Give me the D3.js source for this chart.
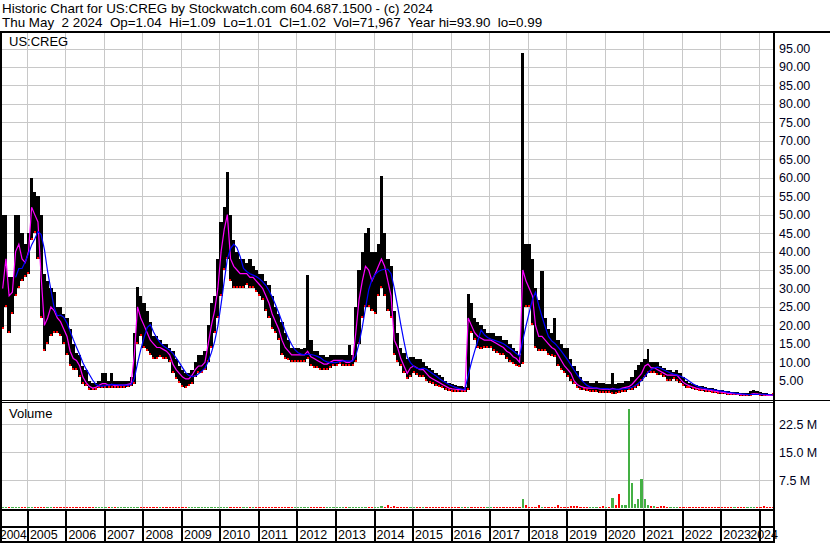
<!DOCTYPE html>
<html lang="en">
<head>
<meta charset="UTF-8">
<title>Historic Chart for US:CREG</title>
<script src="https://cdn.jsdelivr.net/npm/d3@7/dist/d3.min.js"></script>
<style>
    body { margin: 0; background: #fff; }
    svg { display: block; font-family: Arial, "Liberation Sans", sans-serif; }
    text { white-space: pre; }
</style>
</head>
<body>
<div id="chart"></div>
<script>
// one bar per month, May 2004 .. May 2024
const firstMonth = new Date(2004, 4, 1);

const priceHigh = [
    50, 50, 33, 33, 50, 50, 45, 42,                        // 2004 (May-Dec)
    45, 60, 56, 55, 50, 34, 32, 30, 29, 25, 25, 23,        // 2005
    22, 19, 15, 12.5, 12, 9, 8, 5, 4.5, 4.5, 5, 7,         // 2006
    7, 5, 7, 5, 5, 5, 5, 5, 6, 18, 30.5, 28,               // 2007
    26, 24, 21, 17, 17, 16, 15, 15, 14, 13, 11, 9,         // 2008
    8, 7, 7, 8, 10, 12, 12, 13, 20, 26, 28, 38,            // 2009
    48, 52, 61.5, 50, 43, 40, 38, 38, 37, 38, 36, 35,      // 2010
    34, 34, 32, 31, 28, 25, 23, 21, 18, 16, 14, 14,        // 2011
    14, 13.5, 14, 33.6, 16, 13, 13, 12, 12, 11.5, 12, 12,  // 2012
    12, 12, 12, 12, 14.7, 12, 25, 35, 40, 45, 46.3, 40,    // 2013
    40, 42, 60.4, 45, 38, 36, 24, 18, 14, 12.5, 11, 11.4,  // 2014
    11.4, 11, 11, 10, 9, 8.5, 8, 7, 6.5, 6, 5, 4.5,        // 2015
    4, 3.8, 3.5, 3.5, 3.3, 28.6, 26, 22, 21, 20, 19, 18,   // 2016
    18, 18, 17, 17, 16, 16, 15, 14, 13, 12, 93.9, 42,      // 2017
    42, 38, 30, 27, 34.6, 22, 19, 18, 22, 16, 15, 14,      // 2018
    13.9, 11, 9, 7.6, 6, 5, 5, 4.5, 4.5, 4.9, 4.5, 4.5,    // 2019
    4, 4, 7.2, 4, 4.5, 4.5, 5, 5, 6, 8, 9.3, 10,           // 2020
    11, 13.6, 10, 10, 10, 9, 8.5, 8, 7.8, 7.5, 7.8, 7,     // 2021
    6, 5, 4.5, 4, 3.8, 3.5, 3.5, 3.3, 3, 3, 2.8, 2.6,      // 2022
    2.4, 2.3, 2.2, 2, 2, 1.9, 1.8, 1.8, 1.7, 2.2, 2.5, 2.2, // 2023
    2, 1.8, 1.6, 1.5, 1.09                                 // 2024
];

const priceLow = [
    19, 25, 18, 23, 28, 30, 32, 33,
    34, 43, 45, 38, 22, 13, 15, 17, 18, 18, 17, 15,
    12, 9, 8, 8, 6, 4, 3.5, 2.5, 2.5, 2.5, 3, 3,
    3, 3, 3, 3, 3, 3, 3, 3.4, 3.5, 4, 15, 17,
    14, 13, 12, 11, 11, 11.5, 11, 11, 10, 7, 5.5, 4.5,
    3.4, 3, 3.5, 4, 6, 7, 7, 8, 10, 14, 18, 22,
    28, 35, 38, 32, 30, 30, 30, 30, 31, 30, 30, 29,
    28, 27, 24, 22, 19, 18, 16, 12, 11, 10.6, 10, 10,
    10, 10, 10, 11, 9, 8.5, 8.5, 8, 7.8, 8, 8.5, 9,
    9, 9.5, 9, 9, 9, 9, 10, 15, 22, 25, 25, 24,
    23, 28, 30, 28, 24, 22, 12, 10, 9, 7, 5.5, 6,
    7, 6.5, 6, 6, 5, 4.5, 4, 3.5, 3.2, 3, 2.5, 2.3,
    2, 2, 2, 2, 2, 2.5, 18, 16, 14, 13.5, 14, 14,
    14, 13, 12.5, 12, 12, 11, 10, 9.5, 9, 8.8, 9.5, 25,
    25, 20, 14, 13, 13, 13, 12, 11.8, 11.5, 9, 8, 7,
    6, 5, 4, 3, 2.5, 2.5, 2.3, 2, 2, 2, 1.8, 1.7,
    1.8, 1.6, 1.3, 1.5, 1.8, 2, 2, 2.5, 2.5, 3, 3.5, 5,
    6, 7, 7, 7, 6.6, 6.6, 6, 5, 5, 5.5, 5, 4.5,
    3.5, 3, 3, 2.8, 2.5, 2.3, 2.2, 2, 2, 1.8, 1.6, 1.5,
    1.4, 1.3, 1.2, 1.1, 1.05, 1.05, 1, 1, 1, 1, 1.1, 1.1,
    1, 0.99, 1, 1, 1.01
];

const priceClose = [
    30, 38, 28, 29, 40, 42, 38, 37,
    40, 52, 50, 48, 33, 20, 22, 25, 24, 22, 21, 19,
    17, 13, 11, 10.5, 9, 6, 4.5, 3.5, 3, 3.2, 3.8, 4.2,
    4.2, 3.8, 4, 3.6, 3.8, 3.8, 3.8, 4, 4.2, 12, 25, 22,
    20, 18, 16, 15, 14, 14, 13.5, 13, 12, 9.5, 8, 7,
    6, 5.5, 5.5, 6.5, 8, 9, 9, 10, 15, 20, 24, 30,
    40, 46, 50, 38, 36, 35, 34, 34, 34, 33, 33, 32,
    31, 30, 28, 26, 23, 21, 19, 16, 14, 13, 12, 12,
    12, 12, 12, 13, 11.5, 11, 10.5, 10, 9.5, 9.5, 10, 10.5,
    10.5, 10.5, 10.5, 10, 10, 10.5, 18, 27, 32, 36, 35, 32,
    34, 36, 38, 36, 32, 28, 16, 14, 11, 9, 7, 8.5,
    9, 8.5, 8, 8, 7, 6, 5.5, 5, 4.5, 4, 3.5, 3,
    2.8, 2.7, 2.6, 2.6, 2.5, 22, 20, 18, 17, 16.5, 16, 16,
    16, 15.5, 15, 14.5, 14, 13, 12.5, 11.5, 11, 10, 35, 32,
    30, 28, 20, 17, 17, 16, 15, 14, 13.5, 12, 10.5, 9,
    8, 7, 5, 4, 3.5, 3.2, 3, 3, 3, 3, 2.8, 2.7,
    2.8, 2.6, 2.9, 2.7, 2.6, 3, 3.2, 3.4, 4, 5, 6, 7,
    9, 9.5, 8.5, 8.5, 8, 7.5, 7, 6.5, 6.5, 6.5, 6.5, 5.5,
    4.5, 4, 3.6, 3.3, 3, 2.8, 2.7, 2.6, 2.5, 2.3, 2.2, 2,
    1.9, 1.8, 1.6, 1.5, 1.5, 1.4, 1.3, 1.2, 1.2, 1.3, 1.5, 1.4,
    1.3, 1.2, 1.1, 1.05, 1.02
];

// monthly volume, millions of shares
const volume = [
    0.3, 0.3, 0.3, 0.3, 0.3, 0.3, 0.3, 0.3,
    0.3, 0.3, 0.3, 0.3, 0.3, 0.3, 0.3, 0.3, 0.3, 0.3, 0.3, 0.3,
    0.3, 0.3, 0.3, 0.3, 0.3, 0.3, 0.3, 0.3, 0.3, 0.3, 0.3, 0.3,
    0.3, 0.3, 0.3, 0.3, 0.3, 0.3, 0.3, 0.3, 0.3, 0.3, 0.3, 0.3,
    0.3, 0.3, 0.3, 0.3, 0.3, 0.3, 0.3, 0.3, 0.3, 0.3, 0.3, 0.3,
    0.3, 0.3, 0.3, 0.3, 0.3, 0.3, 0.3, 0.3, 0.3, 0.3, 0.3, 0.3,
    0.3, 0.3, 0.3, 0.3, 0.3, 0.3, 0.3, 0.3, 0.3, 0.3, 0.3, 0.3,
    0.3, 0.3, 0.3, 0.3, 0.3, 0.3, 0.3, 0.3, 0.3, 0.3, 0.3, 0.3,
    0.3, 0.3, 0.3, 0.3, 0.3, 0.3, 0.3, 0.3, 0.3, 0.3, 0.3, 0.3,
    0.3, 0.3, 0.3, 0.3, 0.3, 0.3, 0.3, 0.3, 0.3, 0.3, 0.3, 0.3,
    0.3, 0.3, 0.6, 0.3, 1.0, 0.3, 0.7, 0.3, 0.3, 0.3, 0.3, 0.3,
    0.3, 0.3, 0.3, 0.3, 0.3, 0.3, 0.3, 0.3, 0.3, 0.3, 0.3, 0.3,
    0.3, 0.3, 0.3, 0.3, 0.3, 0.4, 0.3, 0.3, 0.3, 0.3, 0.3, 0.3,
    0.3, 0.3, 0.3, 0.3, 0.3, 0.3, 0.3, 0.3, 0.3, 0.3, 2.5, 0.8,
    0.4, 0.3, 0.3, 0.9, 0.3, 0.3, 0.3, 0.3, 0.3, 0.8, 0.3, 0.3,
    0.3, 0.5, 0.5, 0.5, 0.3, 0.3, 0.3, 0.3, 0.3, 0.3, 0.3, 0.5,
    0.3, 0.3, 2.8, 0.8, 3.9, 1.0, 1.0, 26.7, 6.9, 1.2, 2.6, 7.8,
    2.6, 0.8, 0.5, 0.6, 0.4, 0.5, 0.5, 0.4, 0.3, 0.3, 0.3, 0.3,
    0.3, 0.3, 0.3, 0.3, 0.3, 0.3, 0.3, 0.3, 0.3, 0.3, 0.3, 0.3,
    0.3, 0.3, 0.3, 0.4, 0.3, 0.3, 0.3, 0.3, 0.3, 0.3, 0.3, 0.3,
    0.3, 0.5, 0.3, 0.3, 0.3
];

const yearLabels = ["2004", "2005", "2006", "2007", "2008", "2009", "2010", "2011", "2012", "2013",
    "2014", "2015", "2016", "2017", "2018", "2019", "2020", "2021", "2022", "2023", "2024"];
const priceTicks = [5, 10, 15, 20, 25, 30, 35, 40, 45, 50, 55, 60, 65, 70, 75, 80, 85, 90, 95];
const volumeTicks = [7.5, 15, 22.5];

const headerLines = [
    "Historic Chart for US:CREG by Stockwatch.com 604.687.1500 - (c) 2024",
    "Thu May  2 2024  Op=1.04  Hi=1.09  Lo=1.01  Cl=1.02  Vol=71,967  Year hi=93.90  lo=0.99"
];

const W = 830, H = 543;
const plotLeft = 2, plotRight = 773;
const priceTop = 33, priceBottom = 400;
const volTop = 403, volBottom = 509;

const months = priceHigh.map((_, i) => d3.timeMonth.offset(firstMonth, i));
const data = months.map((m, i) => ({
    start: m,
    end: d3.timeMonth.offset(m, 1),
    high: priceHigh[i],
    low: priceLow[i],
    close: priceClose[i],
    vol: volume[i],
    up: i === 0 || priceClose[i] >= priceClose[i - 1]
}));

// 5 month moving average of the closes (blue)
const maLen = 5;
data.forEach((d, i) => {
    d.ma = i >= maLen - 1 ? d3.mean(priceClose.slice(i - maLen + 1, i + 1)) : null;
});

const x = d3.scaleTime()
    .domain([new Date(2004, 4, 10), new Date(2024, 4, 15)])
    .range([plotLeft, plotRight]);
const y = d3.scaleLinear().domain([0, 99.2]).range([399.2, priceTop]);
const yv = d3.scaleLinear().domain([0, 28.2]).range([508.3, volTop]);

const svg = d3.select("#chart").append("svg")
    .attr("width", W)
    .attr("height", H);

svg.append("rect").attr("width", W).attr("height", H).attr("fill", "#fff");

const defs = svg.append("defs");
defs.append("clipPath").attr("id", "clipPrice").append("rect")
    .attr("x", plotLeft).attr("y", priceTop)
    .attr("width", plotRight - plotLeft).attr("height", priceBottom - priceTop);
defs.append("clipPath").attr("id", "clipVol").append("rect")
    .attr("x", plotLeft).attr("y", volTop)
    .attr("width", plotRight - plotLeft).attr("height", volBottom - volTop);

// header
svg.selectAll(".hdr").data(headerLines).enter().append("text")
    .attr("x", 2)
    .attr("y", (d, i) => 13 + i * 14)
    .attr("font-size", 13.4)
    .attr("fill", "#000")
    .text(d => d);

// year boundaries
const yearStarts = yearLabels.slice(1).map(s => new Date(+s, 0, 1));

// grid
const grid = svg.append("g").attr("stroke", "#c8c8c8").attr("stroke-width", 1)
    .attr("shape-rendering", "crispEdges");
grid.selectAll(".hp").data(priceTicks).enter().append("line")
    .attr("x1", plotLeft).attr("x2", plotRight)
    .attr("y1", d => Math.round(y(d)) + 0.5).attr("y2", d => Math.round(y(d)) + 0.5);
grid.selectAll(".hv").data(volumeTicks).enter().append("line")
    .attr("x1", plotLeft).attr("x2", plotRight)
    .attr("y1", d => Math.round(yv(d)) + 0.5).attr("y2", d => Math.round(yv(d)) + 0.5);
grid.selectAll(".vp").data(yearStarts).enter().append("line")
    .attr("x1", d => Math.round(x(d)) + 0.5).attr("x2", d => Math.round(x(d)) + 0.5)
    .attr("y1", priceTop).attr("y2", priceBottom);
grid.selectAll(".vv").data(yearStarts).enter().append("line")
    .attr("x1", d => Math.round(x(d)) + 0.5).attr("x2", d => Math.round(x(d)) + 0.5)
    .attr("y1", volTop).attr("y2", volBottom);

// price bars
const price = svg.append("g").attr("clip-path", "url(#clipPrice)");
price.append("g").attr("shape-rendering", "crispEdges")
    .selectAll("rect").data(data).enter().append("rect")
    .attr("x", d => x(d.start))
    .attr("width", d => x(d.end) - x(d.start))
    .attr("y", d => y(d.high))
    .attr("height", d => Math.max(1, y(d.low) - y(d.high)))
    .attr("fill", "#000");

price.append("g").attr("shape-rendering", "crispEdges")
    .selectAll("rect").data(data).enter().append("rect")
    .attr("x", d => x(d.start) + 0.5)
    .attr("width", 2)
    .attr("y", d => y(d.low) - 2)
    .attr("height", 2)
    .attr("fill", "#ff0000");

const mid = d => x(new Date((+d.start + +d.end) / 2));

price.append("path")
    .datum(data)
    .attr("fill", "none")
    .attr("stroke", "#ff00ff")
    .attr("stroke-width", 1.2)
    .attr("d", d3.line().x(mid).y(d => y(d.close)));

price.append("path")
    .datum(data.filter(d => d.ma !== null))
    .attr("fill", "none")
    .attr("stroke", "#0000ff")
    .attr("stroke-width", 1.2)
    .attr("d", d3.line().x(mid).y(d => y(d.ma)));

// volume bars
svg.append("g").attr("clip-path", "url(#clipVol)").attr("shape-rendering", "crispEdges")
    .selectAll("rect").data(data).enter().append("rect")
    .attr("x", d => x(d.start) + 0.5)
    .attr("width", d => x(d.end) - x(d.start) - 1)
    .attr("y", d => yv(d.vol))
    .attr("height", d => Math.max(1, yv(0) - yv(d.vol)))
    .attr("fill", d => d.up ? "#44b044" : "#ff0000");

// frame
const frame = svg.append("g").attr("fill", "#000").attr("shape-rendering", "crispEdges");
frame.append("rect").attr("x", 0).attr("y", 31).attr("width", W).attr("height", 2);
frame.append("rect").attr("x", 0).attr("y", 31).attr("width", 2).attr("height", 512);
frame.append("rect").attr("x", plotRight).attr("y", 31).attr("width", 2).attr("height", 512);
frame.append("rect").attr("x", 0).attr("y", 400).attr("width", plotRight).attr("height", 1);
frame.append("rect").attr("x", 0).attr("y", 402).attr("width", plotRight).attr("height", 1);
frame.append("rect").attr("x", plotRight).attr("y", 400).attr("width", W - plotRight).attr("height", 1);
frame.append("rect").attr("x", 0).attr("y", 509).attr("width", plotRight).attr("height", 2);
frame.append("rect").attr("x", 0).attr("y", 526).attr("width", plotRight).attr("height", 2);
frame.append("rect").attr("x", 0).attr("y", 541).attr("width", plotRight + 2).attr("height", 2);
frame.selectAll(".yt").data(yearStarts).enter().append("rect")
    .attr("x", d => Math.round(x(d)))
    .attr("y", 510).attr("width", 1.5).attr("height", 32);

// panel titles
svg.append("text").attr("x", 9).attr("y", 46).attr("font-size", 13).text("US:CREG");
svg.append("text").attr("x", 9).attr("y", 418).attr("font-size", 13).text("Volume");

// right axis labels
svg.selectAll(".pl").data(priceTicks).enter().append("text")
    .attr("x", 779)
    .attr("y", d => y(d))
    .attr("dy", "0.36em")
    .attr("font-size", 12.5)
    .attr("fill", "#000020")
    .text(d => d.toFixed(2));
svg.selectAll(".vl").data(volumeTicks).enter().append("text")
    .attr("x", 779)
    .attr("y", d => yv(d))
    .attr("dy", "0.36em")
    .attr("font-size", 12.5)
    .attr("fill", "#000020")
    .text(d => d.toFixed(1) + " M");

// year labels
svg.selectAll(".yl").data(yearLabels).enter().append("text")
    .attr("x", (d, i) => i === 0 ? 0
        : i === yearLabels.length - 1 ? 778 : x(yearStarts[i - 1]) + 3)
    .attr("text-anchor", (d, i) => i === yearLabels.length - 1 ? "end" : "start")
    .attr("y", 539)
    .attr("font-size", (d, i) => i === 0 ? 12 : 12.5)
    .text(d => d);
</script>
</body>
</html>
